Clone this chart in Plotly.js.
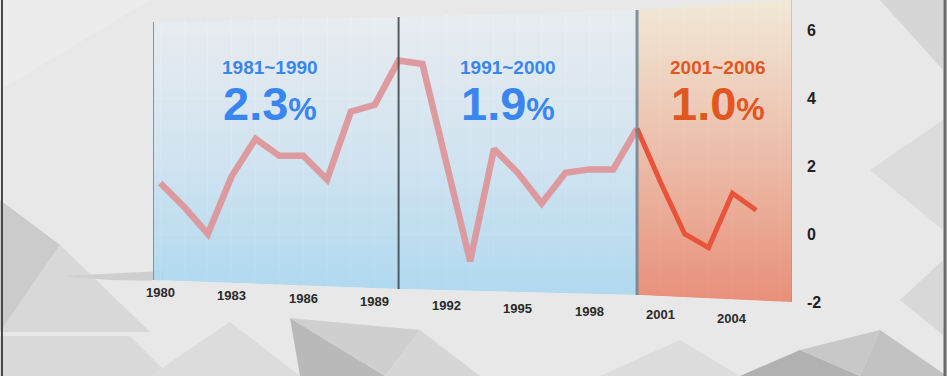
<!DOCTYPE html>
<html>
<head>
<meta charset="utf-8">
<script src="https://cdn.plot.ly/plotly-3.0.1.min.js"></script>
<style>
html,body{margin:0;padding:0;background:#e6e6e6;}
#chart{width:947px;height:376px;}
</style>
</head>
<body>
<div id="chart"></div>
<script>
// ---- data ----
const years = [1980,1981,1982,1983,1984,1985,1986,1987,1988,1989,1990,1991,1992,1993,1994,1995,1996,1997,1998,1999,2000,2001,2002,2003,2004,2005];
const growth = [1.5,0.8,0.0,1.7,2.8,2.3,2.3,1.6,3.6,3.8,5.1,5.0,2.1,-0.8,2.5,1.8,0.9,1.8,1.9,1.9,3.1,1.5,0.0,-0.4,1.2,0.7];
const periodLabels = ['1981~1990','1991~2000','2001~2006'];
const periodAverages = [2.3, 1.9, 1.0];
const tickYears = [1980,1983,1986,1989,1992,1995,1998,2001,2004];
const yTicks = [-2,0,2,4,6];

// ---- layout helpers ----
const W = 947, H = 376, ML = 153, MR = 155, MT = 0, MB = 74;
const PW = W - ML - MR, PH = H - MT - MB;
const px = x => (x - ML) / PW;           // pixel -> paper x
const py = y => (MT + PH - y) / PH;      // pixel -> paper y
const vy = y => (234 - y) / 34;          // pixel -> y value
const xr = [1979.7, 2006.5], yr = [-2, vy(0)];
const bounds = [[1979.7, 1990], [1990, 2000], [2000, 2006.5]];
// perspective top / bottom of each panel edge (pixel rows)
const edgeTop = [22, 17, 10, 0];
const edgeBot = [280, 289, 295, 303];

const BG = '#e8e8e8';
const blueGrad = {type:'vertical', colorscale:[[0,'rgba(170,215,240,0.9)'],[0.5,'rgba(206,227,241,0.85)'],[1,'rgba(232,237,241,0.85)']]};
const redGrad = {type:'vertical', colorscale:[[0,'rgba(232,136,112,0.92)'],[0.5,'rgba(236,184,162,0.88)'],[1,'rgba(242,233,212,0.88)']]};

const traces = [];
bounds.forEach((b, i) => {
  const t0 = vy(edgeTop[i]), t1 = vy(edgeTop[i+1]);
  const b0 = Math.max(yr[0], vy(edgeBot[i])), b1 = Math.max(yr[0], vy(edgeBot[i+1]));
  traces.push({
    x:[b[0], b[1], b[1], b[0], b[0]], y:[b0, b1, t1, t0, b0],
    type:'scatter', mode:'lines', fill:'toself', line:{width:0},
    fillcolor:'rgba(0,0,0,0)',
    fillgradient: i === 2 ? redGrad : blueGrad,
    hoverinfo:'skip', showlegend:false
  });
});

const split = years.indexOf(2000);
traces.push({
  x: years.slice(0, split + 1), y: growth.slice(0, split + 1),
  type:'scatter', mode:'lines', line:{color:'rgba(222,146,150,0.9)', width:6.5},
  showlegend:false
});
traces.push({
  x: years.slice(split), y: growth.slice(split),
  type:'scatter', mode:'lines', line:{color:'#e8533a', width:5},
  showlegend:false
});

// background low-poly texture (paper coords from pixels)
const poly = (pts, color, layer) => ({
  type:'path', xref:'paper', yref:'paper', layer: layer || 'below',
  path: 'M ' + pts.map(p => px(p[0]) + ',' + py(p[1])).join(' L ') + ' Z',
  fillcolor: color, line:{width:0}
});
const shapes = [
  poly([[0,0],[150,0],[0,90]], '#ececec'),
  poly([[0,200],[60,245],[0,332]], '#cbcbcb'),
  poly([[0,332],[60,245],[150,332]], '#d8d8d8'),
  poly([[0,336],[130,336],[170,376],[0,376]], '#dadada'),
  poly([[60,276],[163,271],[163,281],[110,280]], '#cfcfcf'),
  poly([[150,376],[230,322],[300,376]], '#dcdcdc'),
  poly([[290,318],[385,376],[300,376]], '#b9b9b9'),
  poly([[290,318],[420,330],[385,376]], '#cfcfcf'),
  poly([[385,376],[420,330],[480,376]], '#d6d6d6'),
  poly([[600,376],[680,340],[740,376]], '#dcdcdc'),
  poly([[740,376],[800,350],[860,376]], '#b1b1b1'),
  poly([[800,350],[880,330],[860,376]], '#c8c8c8'),
  poly([[860,376],[880,330],[947,376]], '#c2c2c2'),
  poly([[880,0],[943,0],[943,70]], '#d6d6d6'),
  poly([[870,170],[943,120],[943,230]], '#dcdcdc'),
  poly([[900,300],[943,260],[943,335]], '#d8d8d8'),
  // covers for the slanted panel tops / bottoms
  poly([[ML-1,-1],[ML-1,edgeTop[0]],[377,edgeTop[1]],[637,edgeTop[2]],[792,edgeTop[3]],[792,-1]], BG, 'above'),
  poly([[ML-1,edgeBot[0]],[399,edgeBot[1]],[637,edgeBot[2]],[792,edgeBot[3]],[792,305],[ML-1,305]], BG, 'above'),
  // borders
  {type:'line', xref:'paper', yref:'paper', x0:px(2), x1:px(2), y0:py(0), y1:py(376), line:{color:'#4a4a4a', width:2}},
  {type:'line', xref:'paper', yref:'paper', x0:px(945), x1:px(945), y0:py(0), y1:py(376), line:{color:'#6a6a6a', width:3}}
];
// panel edge lines
const edgeColors = ['rgba(110,130,145,0.8)', 'rgba(70,75,80,0.9)', 'rgba(110,130,145,0.85)', 'rgba(150,120,110,0.6)'];
const edgeWidths = [2, 2, 3, 1];
[bounds[0][0], bounds[1][0], bounds[2][0], bounds[2][1]].forEach((xv, i) => {
  shapes.push({type:'line', x0:xv, x1:xv, y0:Math.max(yr[0], vy(edgeBot[i])), y1:vy(edgeTop[i]),
    line:{color:edgeColors[i], width:edgeWidths[i]}, layer:'above'});
});

const annotations = [];
const labelX = [1984.6, 1994.6, 2003.4];
const colors = ['#3a86f0', '#3a86f0', '#e2571f'];
periodLabels.forEach((t, i) => {
  annotations.push({x:labelX[i], y:4.9, text:'<b>' + t + '</b>', showarrow:false,
    font:{family:'Liberation Sans, Arial', size:19, color:colors[i]}});
  annotations.push({x:labelX[i], y:3.85, text:'<b>' + periodAverages[i].toFixed(1) + '<span style="font-size:32px">%</span></b>',
    showarrow:false, font:{family:'Liberation Sans, Arial', size:47, color:colors[i]}});
});
// x tick labels, slanting down to the right like the reference
tickYears.forEach(yv => {
  annotations.push({x:yv, xref:'x', yref:'paper', yanchor:'middle', xanchor:'center',
    y:py(292 + (yv - 1980) * 26 / 24),
    text:'<b>' + yv + '</b>', showarrow:false,
    font:{family:'Liberation Sans, Arial', size:13, color:'#2a2a2a'}});
});

const layout = {
  width: W, height: H,
  margin:{l:ML, r:MR, t:MT, b:MB, pad:0},
  paper_bgcolor: BG,
  plot_bgcolor:'rgba(0,0,0,0)',
  showlegend:false,
  xaxis:{range:xr, showticklabels:false, dtick:1, tick0:1980, gridcolor:'rgba(255,255,255,0.9)', gridwidth:1, zeroline:false, showline:false, ticks:''},
  yaxis:{range:yr, side:'right', tickvals:yTicks, ticktext:yTicks.map(String),
    gridcolor:'rgba(255,255,255,0.9)', zeroline:false, showline:false, ticks:'',
    ticklabelstandoff:14,
    tickfont:{family:'Liberation Sans, Arial', size:16, color:'#222', weight:'bold'}},
  shapes: shapes,
  annotations: annotations
};

Plotly.newPlot('chart', traces, layout, {displayModeBar:false, staticPlot:true});
</script>
</body>
</html>
